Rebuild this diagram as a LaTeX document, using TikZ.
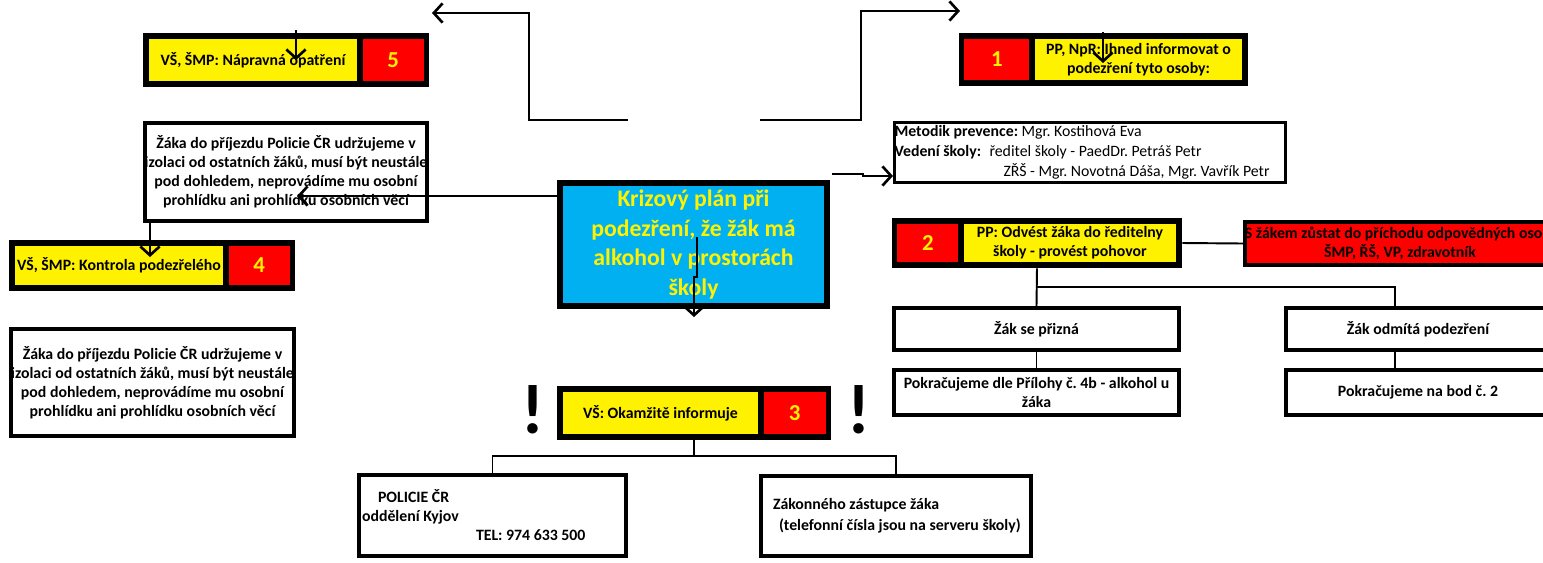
\documentclass[tikz,border=0pt]{standalone}
\usepackage{fontspec}
\setmainfont{Carlito}
\usetikzlibrary{arrows.meta}
\usetikzlibrary{positioning}
\frenchspacing

\definecolor{planblue}{RGB}{0,176,240}
\newcommand{\labelfont}{\fontsize{9}{10.8}\selectfont\bfseries}
\newcommand{\numfont}{\fontsize{13}{15}\selectfont\bfseries}
\newcommand{\titlefont}{\fontsize{13.5}{17}\selectfont\bfseries}
\newcommand{\contactfont}{\fontsize{9}{11.3}\selectfont}

\tikzset{
  frame/.style={fill=black, inner sep=0pt},
  yellowpart/.style={fill=yellow, inner sep=0pt, align=center, font=\labelfont},
  redpart/.style={fill=red, inner sep=0pt, text=yellow, font=\numfont},
  textbox/.style={draw, line width=0.08cm, fill=white, inner sep=0pt,
    align=center, font=\labelfont},
  link/.style={line width=1.1pt},
  pointer/.style={line width=1.5pt, ->},
  bang/.style={font=\fontsize{40}{40}\selectfont\bfseries, inner sep=0pt}
}

\begin{document}
\begin{tikzpicture}[x=0.02cm, y=-0.02cm,
    >={Straight Barb[length=5pt,width=11pt]},
    node distance=0.1cm]

  \useasboundingbox (0,0) rectangle (1543,562);

  % step 5
  \node[frame, minimum width=5.72cm, minimum height=1.08cm]
    (frame5) at (286,60) {};
  \node[yellowpart, minimum width=4.16cm, minimum height=0.84cm]
    (text5) at (253,60) {VŠ, ŠMP: Nápravná opatření};
  \node[redpart, minimum width=1.22cm, minimum height=0.84cm]
    (num5) [right=of text5] {5};

  % step 1
  \node[frame, minimum width=5.78cm, minimum height=1.06cm]
    (frame1) at (1103.5,59.5) {};
  \node[yellowpart, minimum width=4.14cm, minimum height=0.82cm]
    (text1) at (1138.5,59.5) {PP, NpR: Ihned informovat o\\podezření tyto osoby:};
  \node[redpart, minimum width=1.30cm, minimum height=0.82cm]
    (num1) [left=of text1] {1};

  % step 4
  \node[frame, minimum width=5.72cm, minimum height=1.02cm]
    (frame4) at (152,265.5) {};
  \node[yellowpart, minimum width=4.16cm, minimum height=0.78cm]
    (text4) at (119,265.5) {VŠ, ŠMP: Kontrola podezřelého};
  \node[redpart, minimum width=1.22cm, minimum height=0.78cm]
    (num4) [right=of text4] {4};

  % step 2
  \node[frame, minimum width=5.80cm, minimum height=1.00cm]
    (frame2) at (1037,243) {};
  \node[yellowpart, minimum width=4.24cm, minimum height=0.76cm]
    (text2) at (1070,243) {PP: Odvést žáka do ředitelny\\školy - provést pohovor};
  \node[redpart, minimum width=1.22cm, minimum height=0.76cm]
    (num2) [left=of text2] {2};

  % step 3
  \node[frame, minimum width=5.48cm, minimum height=1.08cm]
    (frame3) at (694,413) {};
  \node[yellowpart, minimum width=3.90cm, minimum height=0.84cm]
    (text3) at (660.5,413) {VŠ: Okamžitě informuje};
  \node[redpart, minimum width=1.24cm, minimum height=0.84cm]
    (num3) [right=of text3] {3};

  \node[bang] (bangL) at (533,410) {!};
  \node[bang] (bangR) at (859,410) {!};

  % centre
  \node[draw, line width=0.12cm, fill=planblue, text=yellow, font=\titlefont,
        align=center, inner sep=0pt, minimum width=5.34cm, minimum height=2.46cm]
    (plan) at (693.5,244.5) {Krizový plán při\\podezření, že žák má\\alkohol v prostorách\\školy};

  \node[draw, line width=0.06cm, fill=white, font=\contactfont, align=flush left,
        inner sep=0pt, text width=7.82cm, minimum height=1.20cm]
    (contacts) at (1090,152.5)
    {\textbf{Metodik prevence:} Mgr. Kostihová Eva\\
     \makebox[1.9cm][l]{\textbf{Vedení školy:}}ředitel školy - PaedDr. Petráš Petr\\
     \hspace*{2.18cm}ZŘŠ - Mgr. Novotná Dáša, Mgr. Vavřík Petr};

  \node[draw, line width=0.08cm, fill=red, font=\labelfont, align=center,
        inner sep=0pt, minimum width=6.16cm, minimum height=0.86cm]
    (stay) at (1400,243.5) {S žákem zůstat do příchodu odpovědných osob:\\ŠMP, ŘŠ, VP, zdravotník};

  \node[textbox, minimum width=5.60cm, minimum height=1.96cm]
    (isolA) at (286,172) {Žáka do příjezdu Policie ČR udržujeme v\\izolaci od ostatních žáků, musí být neustále\\pod dohledem, neprovádíme mu osobní\\prohlídku ani prohlídku osobních věcí};
  \node[textbox, minimum width=5.62cm, minimum height=2.14cm]
    (isolB) at (152.5,382.5) {Žáka do příjezdu Policie ČR udržujeme v\\izolaci od ostatních žáků, musí být neustále\\pod dohledem, neprovádíme mu osobní\\prohlídku ani prohlídku osobních věcí};

  \node[textbox, minimum width=5.70cm, minimum height=0.84cm]
    (admits) at (1036.5,329) {Žák se přizná};
  \node[textbox, minimum width=5.70cm, minimum height=0.90cm]
    (annex) at (1036.5,392.5) {Pokračujeme dle Přílohy č. 4b - alkohol u\\žáka};
  \node[textbox, minimum width=5.28cm, minimum height=0.84cm]
    (denies) at (1418,329) {Žák odmítá podezření};
  \node[textbox, minimum width=5.28cm, minimum height=0.90cm]
    (backto) at (1418,392.5) {Pokračujeme na bod č. 2};

  \node[textbox, align=flush left, text width=5.34cm, minimum height=1.62cm]
    (police) at (492.5,515.5)
    {\hspace*{0.38cm}POLICIE ČR\\\hspace*{0.06cm}oddělení Kyjov\\\hspace*{2.34cm}TEL: 974 633 500};
  \node[textbox, align=flush left, text width=5.40cm, minimum height=1.60cm]
    (parents) at (896,516)
    {\hspace*{0.24cm}Zákonného zástupce žáka\\[1pt]\hspace*{0.36cm}(telefonní čísla jsou na serveru školy)};

  % connectors
  \coordinate (tlstart) at (628,120);
  \coordinate (tlbend) at (529,13);
  \coordinate (tlend) at (432,13);
  \draw[pointer] (tlstart) -| (tlbend) -- (tlend);

  \coordinate (trstart) at (760,120);
  \coordinate (trbend) at (861,11);
  \coordinate (trend) at (960,11);
  \draw[pointer] (trstart) -| (trbend) -- (trend);

  \coordinate (in5) at (296,30);
  \draw[pointer] (in5) -- (in5 |- text5.center);
  \coordinate (in1) at (1103,32);
  \draw[pointer] (in1) -- ++(0,31);

  \coordinate (isotip) at (297,196);
  \draw[pointer] (isotip -| plan.west) -- (isotip);
  \coordinate (in4) at (150,257);
  \draw[pointer] (in4 |- isolA.south) -- (in4);

  \coordinate (cstart) at (832,174);
  \draw[pointer] (cstart) -- ++(31,0) -- ++(0,2) -- (893,176);

  \coordinate (pa) at (697,237);
  \draw[pointer] (pa) -- ++(0,40) -- ++(-3,0) -- ++(0,40);

  \draw[link] (frame3.south) -- ++(0,16) coordinate (fork3);
  \draw[link] (police.north) |- (fork3) -| (parents.north);

  \draw[link] (frame2.east) -- (stay.west);
  \draw[link] (frame2.south) -- (admits.north);
  \draw[link] (frame2.south) ++(0,19) coordinate (fork2)
    -| ([xshift=-0.46cm]denies.north);
  \draw[link] (admits.south) -- (annex.north);
  \draw[link] ([xshift=-0.46cm]denies.south) -- ([xshift=-0.46cm]backto.north);

\end{tikzpicture}
\end{document}
